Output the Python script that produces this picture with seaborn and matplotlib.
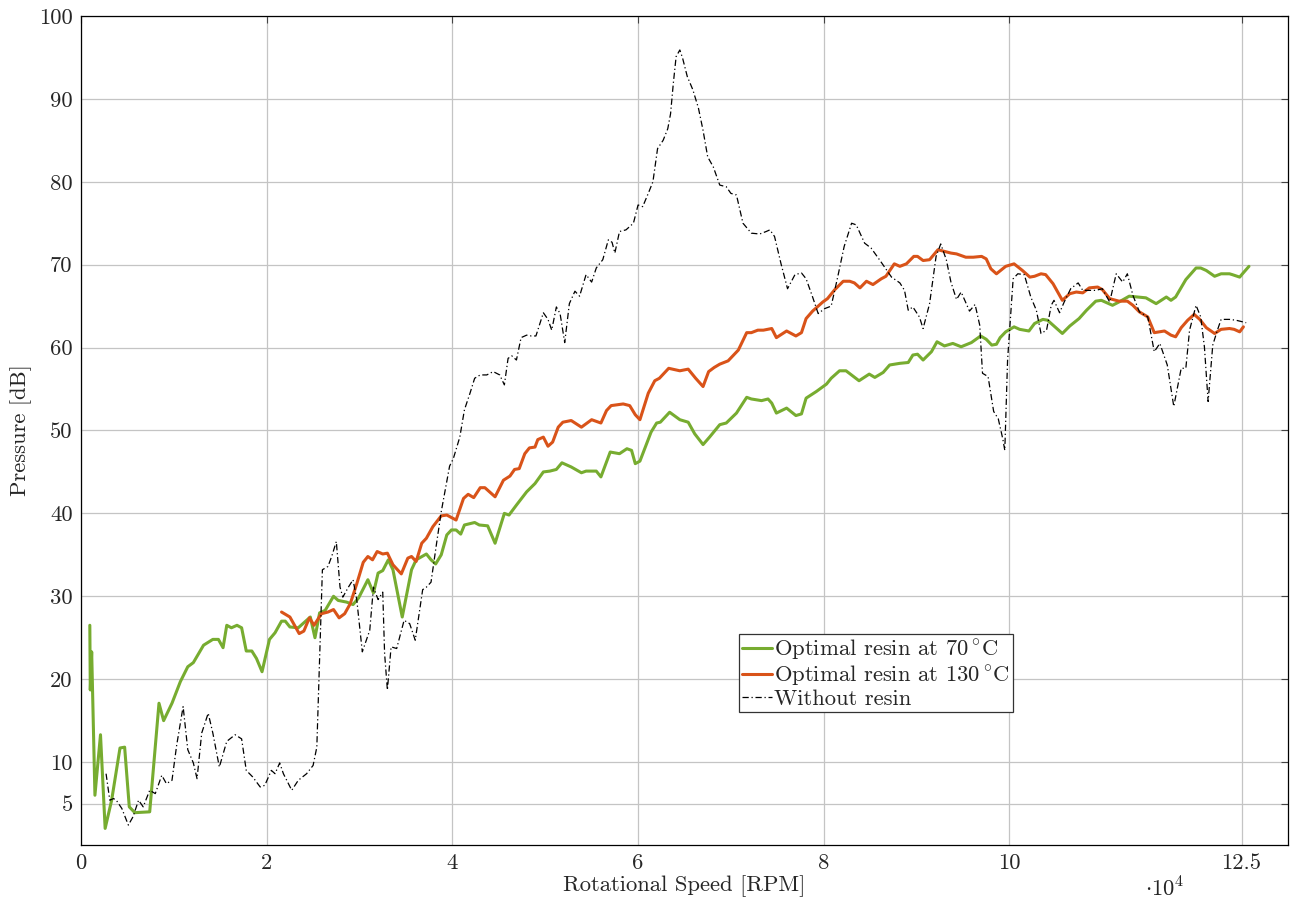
import matplotlib
matplotlib.use("Agg")
import matplotlib.pyplot as plt
import seaborn as sns

# Optimal resin at 70 °C
green_rpm = [950, 1000, 1150, 1500, 2100, 2600, 3300, 4200, 4700, 5200, 5800, 7400, 8400, 8900, 9800,
             10700, 11500, 12100, 13200, 14200, 14800, 15300, 15700, 16200, 16800, 17300, 17800, 18400,
             18900, 19500, 20300, 20900, 21600, 22000, 22500, 23400, 24700, 25200, 25700, 26300, 27200,
             27700, 28600, 29300, 29900, 30900, 31500, 32000, 32500, 33100, 33600, 34600, 35600, 36100,
             37200, 37700, 38200, 38800, 39400, 39900, 40400, 40900, 41300, 42400, 42900, 43800, 44600,
             45600, 46100, 46900, 48000, 48900, 49800, 50500, 51200, 51800, 52800, 53900, 54400, 55500,
             56000, 57000, 58000, 58800, 59300, 59700, 60200, 61400, 62000, 62400, 63400, 64500, 65400,
             66100, 67000, 67700, 68800, 69500, 70600, 71700, 72200, 73300, 74000, 74400, 74900, 76000,
             77000, 77600, 78100, 79200, 80300, 80800, 81700, 82400, 83100, 83800, 84900, 85500, 86400,
             87100, 88200, 89100, 89600, 90100, 90700, 91600, 92200, 93000, 93900, 94800, 95900, 96900,
             97500, 98100, 98600, 99000, 99600, 100500, 101100, 102100, 102700, 103600, 104100, 104800,
             105700, 106500, 107500, 108300, 109300, 109900, 111100, 111800, 112900, 114700, 115800,
             116900, 117400, 117900, 119000, 120100, 120600, 121200, 122100, 122800, 123700, 124000,
             124800, 125100, 125800]
green_db = [26.5, 18.7, 23.3, 6.0, 13.3, 2.0, 5.4, 11.7, 11.8, 4.6, 3.9, 4.0, 17.1, 15.0, 17.1,
            19.7, 21.5, 22.0, 24.1, 24.8, 24.8, 23.8, 26.5, 26.2, 26.5, 26.2, 23.4, 23.4,
            22.5, 20.9, 24.8, 25.6, 27.0, 27.0, 26.3, 26.2, 27.5, 25.0, 28.0, 28.3, 30.0,
            29.5, 29.3, 29.0, 29.8, 32.0, 30.4, 32.8, 33.1, 34.4, 33.2, 27.5, 33.2, 34.4,
            35.1, 34.4, 33.9, 35.0, 37.4, 38.0, 38.0, 37.5, 38.6, 38.9, 38.6, 38.5, 36.4,
            40.0, 39.8, 41.0, 42.6, 43.6, 45.0, 45.1, 45.3, 46.1, 45.6, 44.9, 45.1, 45.1,
            44.4, 47.4, 47.2, 47.8, 47.6, 46.0, 46.3, 49.8, 50.9, 51.0, 52.2, 51.3, 51.0,
            49.6, 48.3, 49.2, 50.7, 50.9, 52.1, 54.0, 53.8, 53.6, 53.8, 53.3, 52.1, 52.7,
            51.8, 52.0, 53.9, 54.7, 55.6, 56.3, 57.2, 57.2, 56.6, 56.0, 56.8, 56.4, 57.0,
            57.9, 58.1, 58.2, 59.1, 59.2, 58.5, 59.5, 60.7, 60.2, 60.5, 60.1, 60.6, 61.4,
            61.0, 60.3, 60.4, 61.2, 61.9, 62.5, 62.2, 62.0, 62.9, 63.4, 63.3, 62.6,
            61.7, 62.6, 63.5, 64.5, 65.6, 65.7, 65.1, 65.5, 66.2, 66.0, 65.3,
            66.1, 65.7, 66.1, 68.2, 69.6, 69.6, 69.3, 68.6, 68.9, 68.9, 68.8,
            68.5, 68.9, 69.8]

# Optimal resin at 130 °C
red_rpm = [21600, 22500, 23500, 24000, 24600, 25100, 25900, 26600, 27200, 27800, 28400, 29000, 29700,
           30400, 30900, 31400, 31900, 32500, 33000, 33600, 34500, 35200, 35600, 36100, 36700, 37200,
           37900, 38800, 39400, 40400, 41200, 41700, 42300, 43000, 43500, 44600, 45500, 46200, 46700,
           47200, 47800, 48300, 48900, 49200, 49800, 50300, 50800, 51400, 51900, 52800, 53900, 55000,
           56000, 56600, 57100, 58400, 59100, 59700, 60200, 61100, 61800, 62300, 63300, 64500, 65400,
           66200, 67000, 67600, 68200, 68800, 69700, 70800, 71700, 72200, 72900, 73500, 74400, 74900,
           76000, 77000, 77600, 78100, 78800, 79900, 80400, 81200, 82100, 82800, 83300, 83900, 84600,
           85300, 86200, 86700, 87600, 88200, 88900, 89700, 90100, 90700, 91400, 91700, 92300, 93000,
           93700, 94300, 95300, 96100, 97000, 97500, 98000, 98600, 99600, 100500, 101400, 102200,
           102700, 103400, 103900, 104700, 105700, 106500, 107200, 107900, 108600, 109500, 110000,
           110800, 111800, 112700, 113300, 114000, 114900, 115600, 116700, 117400, 117900, 118500,
           119200, 119900, 120500, 121200, 122100, 122800, 123700, 124200, 124800, 125200]
red_db = [28.1, 27.5, 25.5, 25.8, 27.4, 26.5, 27.9, 28.1, 28.4, 27.4, 27.9, 29.1, 31.5,
          34.1, 34.8, 34.4, 35.4, 35.1, 35.2, 33.8, 32.7, 34.6, 34.8, 34.2, 36.4, 37.0,
          38.4, 39.7, 39.8, 39.2, 41.8, 42.3, 41.9, 43.1, 43.1, 42.0, 44.0, 44.5, 45.3,
          45.4, 47.2, 47.9, 48.0, 48.9, 49.2, 48.1, 48.6, 50.4, 51.0, 51.2, 50.4, 51.3,
          50.9, 52.4, 53.0, 53.2, 53.0, 51.9, 51.3, 54.5, 56.0, 56.3, 57.5, 57.2, 57.4,
          56.3, 55.3, 57.1, 57.6, 58.0, 58.4, 59.7, 61.8, 61.8, 62.1, 62.1, 62.3, 61.2,
          62.0, 61.4, 61.8, 63.5, 64.4, 65.5, 65.9, 67.0, 68.0, 68.0, 67.8, 67.2, 68.0,
          67.6, 68.3, 68.6, 70.1, 69.8, 70.1, 71.0, 71.0, 70.5, 70.6, 71.0, 71.8, 71.6,
          71.4, 71.3, 70.9, 70.9, 71.0, 70.7, 69.5, 68.9, 69.8, 70.1, 69.3, 68.5,
          68.6, 68.9, 68.8, 67.7, 65.7, 66.5, 66.7, 66.6, 67.2, 67.3, 67.0,
          65.9, 65.6, 65.6, 65.1, 64.3, 63.7, 61.8, 62.0, 61.5, 61.3, 62.4,
          63.3, 64.0, 63.4, 62.4, 61.7, 62.2, 62.3, 62.2, 61.9, 62.5]

# Without resin
bare_rpm = [2700, 3100, 3500, 3800, 4400, 5100, 5600, 6200, 6700, 7400, 8000, 8700, 9200, 9800, 10300,
            11000, 11500, 12100, 12500, 13000, 13700, 14200, 14900, 15700, 16600, 17300, 17800, 18500,
            19300, 19800, 20500, 20900, 21400, 21800, 22700, 23400, 24300, 25000, 25400, 25700, 26000,
            26600, 27000, 27500, 27900, 28200, 28800, 29300, 29700, 30300, 31100, 31500, 32000, 32500,
            32700, 33000, 33400, 34000, 34800, 35400, 36000, 36800, 37200, 37700, 38300, 38800, 39700,
            40100, 40800, 41300, 41900, 42400, 43000, 43700, 44400, 45100, 45600, 46000, 46400, 46900,
            47400, 48000, 48500, 49000, 49800, 50300, 50700, 51200, 51600, 52100, 52600, 53200, 53700,
            54400, 55000, 55500, 56200, 56800, 57200, 57500, 58000, 58700, 59500, 60000, 60500, 61100,
            61600, 62100, 62700, 63200, 63500, 63800, 64100, 64500, 64800, 65300, 65900, 66500, 67000,
            67500, 68100, 68800, 69500, 70000, 70600, 71300, 72200, 73100, 73800, 74200, 74700, 75400,
            76100, 76900, 77600, 78100, 78800, 79400, 80100, 80800, 81500, 82200, 83000, 83500, 84400,
            85100, 86000, 87300, 88200, 88700, 89100, 89600, 90300, 90700, 91400, 92100, 92600, 93200,
            93700, 94300, 94800, 95700, 96300, 96800, 97100, 97700, 98300, 98800, 99300, 99500, 99800,
            100400, 100900, 101600, 102300, 102900, 103400, 104000, 104500, 104800, 105400, 105900,
            106600, 107400, 107900, 108600, 109300, 110000, 110800, 111500, 112200, 112700, 113300,
            114000, 114900, 115600, 116200, 117000, 117700, 118500, 119000, 119400, 120100, 120600,
            121000, 121400, 121900, 122400, 122800, 123700, 124400, 125500]
bare_db = [8.6, 5.4, 5.6, 5.4, 4.4, 2.4, 3.4, 5.4, 4.6, 6.6, 6.2, 8.4, 7.4, 7.8, 12.0,
           16.7, 11.5, 9.9, 8.0, 13.5, 15.9, 13.5, 9.4, 12.5, 13.3, 12.8, 9.0, 8.2,
           7.0, 7.2, 9.0, 8.6, 9.9, 8.6, 6.6, 7.8, 8.6, 9.6, 11.8, 22.3, 33.2,
           33.6, 34.8, 36.6, 31.1, 29.9, 31.1, 32.0, 29.6, 23.3, 25.9, 31.1, 29.6, 30.5,
           23.1, 18.7, 23.9, 23.7, 27.1, 26.7, 24.7, 30.8, 31.1, 31.7, 36.4, 40.2, 45.7,
           46.6, 49.2, 52.5, 54.5, 56.3, 56.7, 56.7, 57.1, 56.7, 55.5, 58.7, 59.0, 58.5,
           61.2, 61.5, 61.4, 61.4, 64.2, 63.4, 62.1, 64.9, 64.1, 60.6, 65.3, 66.8, 66.2,
           68.8, 67.9, 69.6, 70.6, 73.0, 72.7, 71.4, 74.0, 74.2, 75.0, 77.2, 77.0, 78.6,
           80.0, 84.0, 85.0, 86.4, 88.2, 91.9, 95.1, 95.9, 94.9, 92.7, 91.1, 88.9, 86.2,
           83.0, 81.8, 79.6, 79.4, 78.6, 78.4, 75.0, 73.8, 73.7, 74.0, 74.2, 73.4, 70.1,
           67.1, 68.8, 69.0, 68.3, 66.1, 64.1, 64.7, 65.0, 68.5, 72.2, 75.0, 74.8, 72.6,
           72.0, 70.6, 68.5, 67.8, 66.9, 64.5, 64.9, 63.7, 62.3, 65.3, 71.0, 72.5, 70.6,
           67.9, 65.8, 66.7, 64.4, 65.2, 62.7, 56.9, 56.5, 52.3, 51.4, 48.9, 47.6, 58.5,
           68.3, 68.9, 68.8, 66.1, 64.5, 61.7, 62.1, 65.1, 65.7, 64.2, 65.5,
           67.1, 67.8, 66.9, 66.9, 66.9, 67.1, 65.5, 68.9, 67.9, 68.9, 66.3,
           64.3, 63.7, 59.5, 60.5, 57.9, 52.9, 57.5, 57.5, 62.1, 65.1, 63.7,
           60.1, 53.5, 60.3, 62.1, 63.4, 63.4, 63.3, 63.0]

x_ticks = [0, 20000, 40000, 60000, 80000, 100000, 125000]
x_tick_labels = ["0", "2", "4", "6", "8", "10", "12.5"]
y_ticks = [5, 10, 20, 30, 40, 50, 60, 70, 80, 90, 100]

sns.set_style("white")
plt.rcParams["font.family"] = ["cmr10"]
plt.rcParams["mathtext.fontset"] = "cm"
plt.rcParams["axes.unicode_minus"] = False
plt.rcParams["axes.formatter.use_mathtext"] = True

FS = 16.3

fig = plt.figure(figsize=(12.96, 9.02), dpi=100)
ax = fig.add_axes([0.0625, 0.0632, 0.9313, 0.9191])

green = "#77AC30"
orange = "#D95319"

sns.lineplot(x=green_rpm, y=green_db, ax=ax, color=green, linewidth=2.2,
             estimator=None, sort=False, label="Optimal resin at 70$\\,^{\\circ}$C")
sns.lineplot(x=red_rpm, y=red_db, ax=ax, color=orange, linewidth=2.2,
             estimator=None, sort=False, label="Optimal resin at 130$\\,^{\\circ}$C")
sns.lineplot(x=bare_rpm, y=bare_db, ax=ax, color="black", linewidth=0.9,
             estimator=None, sort=False, label="Without resin",
             dashes=False, linestyle=(0, (5, 2.2, 1, 2.2)))

ax.set_xlim(0, 130000)
ax.set_ylim(0, 100)
ax.set_xticks(x_ticks)
ax.set_xticklabels(x_tick_labels)
ax.set_yticks(y_ticks)
ax.set_yticklabels([str(v) for v in y_ticks])

ax.grid(True, color="#c4c4c4", linewidth=0.9)
ax.set_axisbelow(True)
for s in ax.spines.values():
    s.set_color("black")
    s.set_linewidth(0.9)
    s.set_visible(True)

ax.tick_params(axis="both", which="major", direction="in", length=5, width=0.8,
               top=True, right=True, labelsize=FS, pad=6, color="#444444")

ax.set_xlabel("Rotational Speed [RPM]", fontsize=FS, labelpad=2)
ax.set_ylabel("Pressure [dB]", fontsize=FS, labelpad=5)
ax.text(0.898, -0.052, r"$\cdot 10^4$", transform=ax.transAxes, fontsize=FS,
        ha="center", va="center")

leg = ax.legend(loc="upper left", bbox_to_anchor=(0.545, 0.255), fontsize=FS,
                frameon=True, fancybox=False, framealpha=1, edgecolor="#333333",
                borderpad=0.15, labelspacing=0.05, handlelength=1.3, handletextpad=0.1,
                borderaxespad=0)
leg.get_frame().set_linewidth(0.9)

fig.savefig("out.png", dpi=100)
